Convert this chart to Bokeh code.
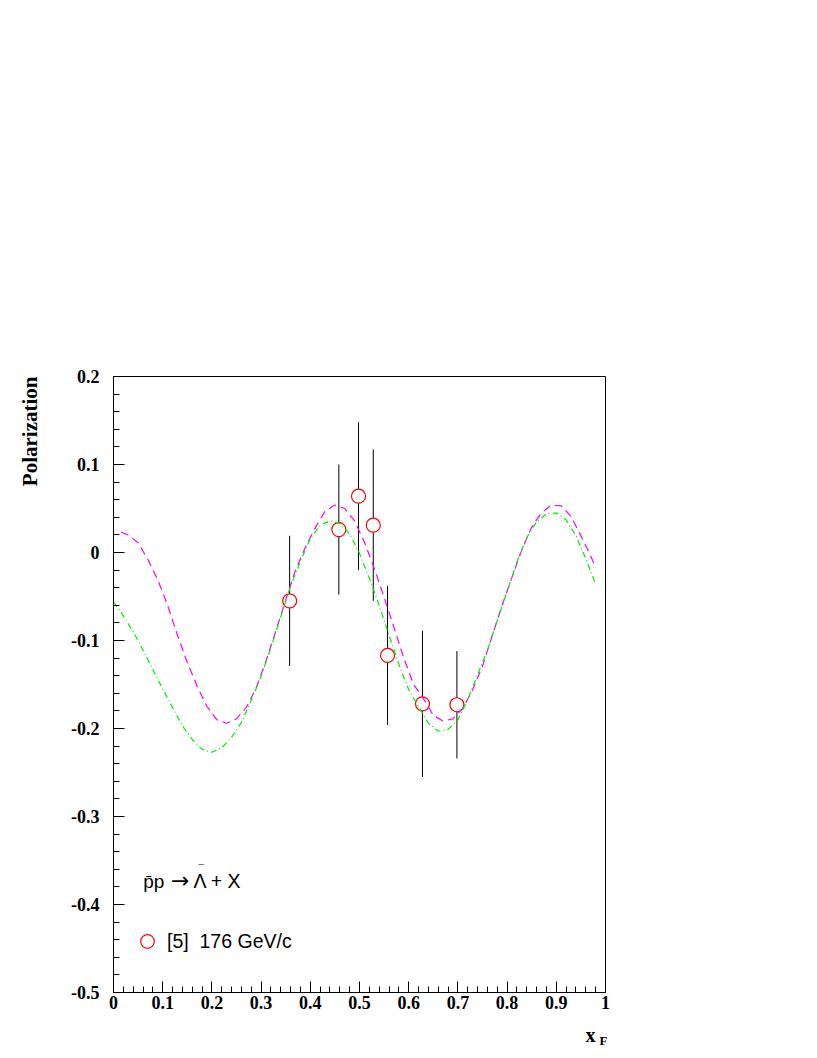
from bokeh.plotting import figure
from bokeh.models import Range1d, FixedTicker, Label, Legend, LegendItem
from bokeh.embed import file_html
from bokeh.resources import INLINE
import math

# ---- data ----
data_x = [0.358, 0.458, 0.498, 0.528, 0.557, 0.628, 0.698]
data_y = [-0.055, 0.026, 0.064, 0.031, -0.117, -0.172, -0.173]
data_err = [0.074, 0.074, 0.084, 0.086, 0.079, 0.083, 0.061]

magenta_x = [0.015, 0.03, 0.05, 0.07, 0.09, 0.11, 0.13, 0.15, 0.17, 0.19, 0.21, 0.23, 0.25,
             0.27, 0.29, 0.31, 0.33, 0.35, 0.37, 0.39, 0.41, 0.43, 0.45, 0.47, 0.49, 0.51,
             0.53, 0.55, 0.57, 0.59, 0.61, 0.63, 0.65, 0.67, 0.69, 0.71, 0.73, 0.75, 0.77,
             0.79, 0.81, 0.83, 0.85, 0.87, 0.89, 0.91, 0.93, 0.95, 0.97, 0.98]
magenta_y = [0.023, 0.020, 0.011, -0.008, -0.031, -0.060, -0.094, -0.125, -0.152, -0.175,
             -0.190, -0.194, -0.189, -0.176, -0.154, -0.123, -0.089, -0.054, -0.020, 0.006,
             0.028, 0.047, 0.054, 0.050, 0.036, 0.012, -0.018, -0.051, -0.085, -0.120,
             -0.150, -0.166, -0.185, -0.1915, -0.189, -0.177, -0.156, -0.129, -0.094,
             -0.060, -0.028, 0.003, 0.029, 0.045, 0.054, 0.053, 0.041, 0.019, -0.004, -0.0175]

green_x = [0.00, 0.02, 0.04, 0.06, 0.08, 0.10, 0.12, 0.14, 0.16, 0.18, 0.20, 0.22, 0.24,
           0.26, 0.28, 0.30, 0.32, 0.34, 0.36, 0.38, 0.40, 0.42, 0.44, 0.46, 0.48, 0.50,
           0.52, 0.54, 0.56, 0.58, 0.60, 0.62, 0.64, 0.66, 0.68, 0.70, 0.72, 0.74, 0.76,
           0.78, 0.80, 0.82, 0.84, 0.86, 0.88, 0.90, 0.92, 0.94, 0.96, 0.98]
green_y = [-0.056, -0.072, -0.090, -0.111, -0.133, -0.155, -0.176, -0.197, -0.2125, -0.2235,
           -0.227, -0.222, -0.210, -0.193, -0.168, -0.141, -0.108, -0.073, -0.038, -0.010,
           0.016, 0.031, 0.036, 0.033, 0.021, -0.001, -0.029, -0.060, -0.094, -0.127,
           -0.156, -0.175, -0.194, -0.203, -0.201, -0.190, -0.167, -0.139, -0.111, -0.077,
           -0.044, -0.0105, 0.017, 0.035, 0.044, 0.045, 0.037, 0.019, -0.007, -0.036]

x_ticks = [0, 0.1, 0.2, 0.3, 0.4, 0.5, 0.6, 0.7, 0.8, 0.9, 1]
x_tick_labels = ["0", "0.1", "0.2", "0.3", "0.4", "0.5", "0.6", "0.7", "0.8", "0.9", "1"]
y_ticks = [-0.5, -0.4, -0.3, -0.2, -0.1, 0, 0.1, 0.2]
y_tick_labels = ["-0.5", "-0.4", "-0.3", "-0.2", "-0.1", "0", "0.1", "0.2"]

y_title = "Polarization"
x_title = "x"
x_title_sub = "F"
reaction_left = "p\u0304p"
reaction_arrow = "\u2192"
reaction_right = "\u039b + X"
bar_mark = "\u00af"
legend_text = "[5]\u00a0 176 GeV/c"

# ---- figure ----
p = figure(width=648, height=1056, output_backend="svg", toolbar_location=None,
           x_range=Range1d(0, 1), y_range=Range1d(-0.5, 0.2),
           min_border_left=113, min_border_right=43, min_border_top=376, min_border_bottom=64)
p.xgrid.visible = False
p.ygrid.visible = False
p.outline_line_color = "black"
p.outline_line_width = 1
p.background_fill_color = "white"
p.border_fill_color = "white"

serif = "Liberation Serif"
sans = "Liberation Sans"

p.xaxis.ticker = FixedTicker(ticks=x_ticks, minor_ticks=[i * 0.02 for i in range(51)])
p.yaxis.ticker = FixedTicker(ticks=y_ticks, minor_ticks=[-0.5 + i * 0.02 for i in range(36)])
p.xaxis.major_label_overrides = dict(zip(x_ticks, x_tick_labels))
p.yaxis.major_label_overrides = dict(zip(y_ticks, y_tick_labels))
for ax in (p.xaxis[0], p.yaxis[0]):
    ax.major_tick_in = 11
    ax.major_tick_out = 0
    ax.minor_tick_in = 6
    ax.minor_tick_out = 0
    ax.axis_line_color = "black"
    ax.major_tick_line_color = "black"
    ax.minor_tick_line_color = "black"
    ax.major_label_text_font = serif
    ax.major_label_text_font_style = "bold"
    ax.major_label_text_font_size = "18px"
    ax.major_label_text_color = "black"
p.xaxis.major_label_standoff = 3
p.yaxis.major_label_standoff = 14

# error bars
lo = [y - e for y, e in zip(data_y, data_err)]
hi = [y + e for y, e in zip(data_y, data_err)]
p.segment(x0=data_x, y0=lo, x1=data_x, y1=hi, line_color="black", line_width=1)

# data points
pts = p.scatter(data_x, data_y, marker="circle", size=14, line_color="#ff0000",
                line_width=1.2, fill_color="white")

# curves
p.line(magenta_x, magenta_y, line_color="#ff00ff", line_width=1.2, line_dash="8 5")
p.line(green_x, green_y, line_color="#00ee00", line_width=1.2, line_dash="6 3 1 3")

# axis titles (placed in side panels so they are not clipped to the frame)
p.add_layout(Label(x=-0.1705, y=0.2, text=y_title, angle=math.pi / 2,
                   text_align="right", text_baseline="middle",
                   text_font=serif, text_font_style="bold", text_font_size="21px",
                   text_color="black"), "left")
p.add_layout(Label(x=0.9593, y=-0.5485, text=x_title, text_align="left",
                   text_baseline="alphabetic", text_font=serif, text_font_style="bold",
                   text_font_size="20px", text_color="black"), "below")
p.add_layout(Label(x=0.9878, y=-0.5542, text=x_title_sub, text_align="left",
                   text_baseline="alphabetic", text_font=serif, text_font_style="bold",
                   text_font_size="13px", text_color="black"), "below")

# reaction text
p.add_layout(Label(x=0.0604, y=-0.3733, text=reaction_left, text_align="left",
                   text_baseline="alphabetic", text_font=sans, text_font_size="19px",
                   text_color="black"))
p.add_layout(Label(x=0.1357, y=-0.3724, text=reaction_arrow, text_align="center",
                   text_baseline="middle", text_font="DejaVu Sans", text_font_size="22px",
                   text_color="black"))
p.add_layout(Label(x=0.1625, y=-0.3733, text=reaction_right, text_align="left",
                   text_baseline="alphabetic", text_font=sans, text_font_size="19.5px",
                   text_color="black"))
p.add_layout(Label(x=0.1785, y=-0.3599, text=bar_mark, text_align="center",
                   text_baseline="alphabetic", text_font=sans, text_font_size="10px",
                   text_color="black"))

legend = Legend(items=[LegendItem(label=legend_text, renderers=[pts])],
                location=(17, 34), padding=0, margin=0, spacing=0,
                glyph_width=34, glyph_height=34, label_standoff=3,
                label_text_font=sans, label_text_font_size="19.5px",
                label_text_color="black", border_line_color=None,
                background_fill_alpha=0)
p.add_layout(legend)

open("out.html", "w").write(file_html(p, INLINE))
